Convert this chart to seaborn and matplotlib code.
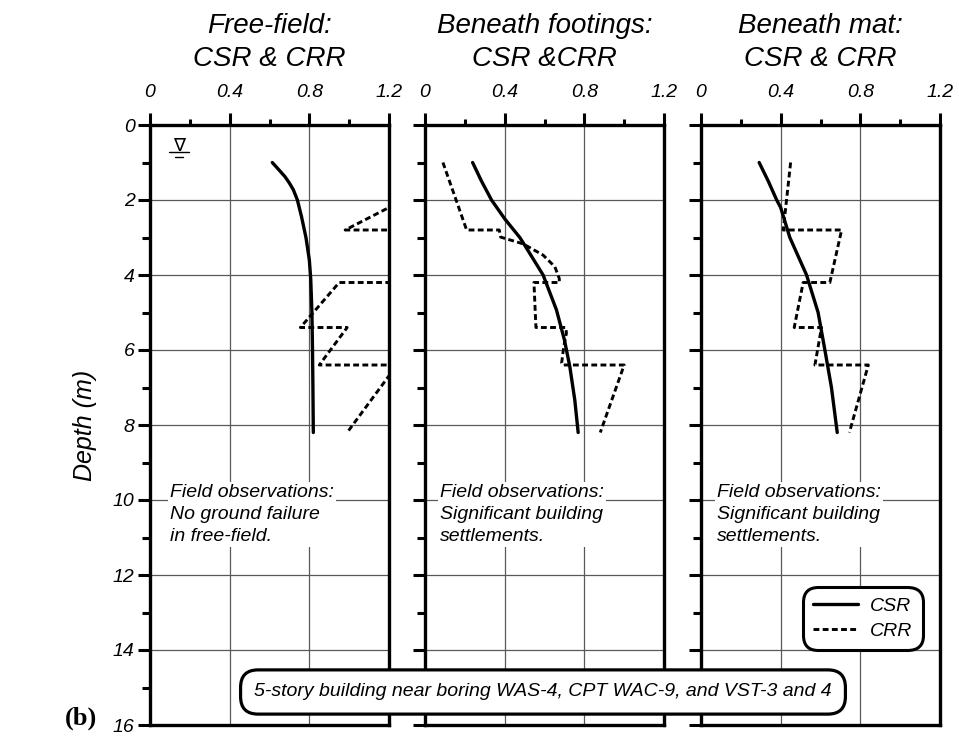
import matplotlib
matplotlib.use("Agg")
import matplotlib.pyplot as plt
import seaborn as sns

# CSR / CRR profiles (value, depth in m)
csr_ff_depth = [1.0, 1.2, 1.38, 1.55, 1.73, 2.0, 2.45, 3.0, 3.6, 4.1, 5.0, 6.0, 7.0, 8.2]
csr_ff = [0.614, 0.648, 0.678, 0.70, 0.72, 0.74, 0.761, 0.783, 0.80, 0.807, 0.813, 0.816, 0.818, 0.82]
crr_ff_depth = [1.0, 2.8, 2.8, 4.2, 4.2, 5.4, 5.4, 6.4, 6.4, 8.2]
crr_ff = [1.64, 0.98, 1.40, 1.40, 0.95, 0.755, 0.99, 0.85, 1.24, 0.99]

csr_ft_depth = [1.0, 1.5, 2.0, 2.5, 3.0, 3.2, 4.0, 4.93, 5.73, 6.44, 7.33, 8.2]
csr_ft = [0.239, 0.284, 0.334, 0.40, 0.476, 0.50, 0.593, 0.66, 0.70, 0.727, 0.752, 0.769]
crr_ft_depth = [1.0, 2.8, 2.8, 2.99, 3.17, 3.47, 3.78, 4.09, 4.2, 4.2, 5.4, 5.4, 5.55, 5.9,
                6.35, 6.4, 6.4, 8.2]
crr_ft = [0.09, 0.209, 0.373, 0.38, 0.493, 0.593, 0.652, 0.674, 0.675, 0.547, 0.557, 0.707,
          0.71, 0.697, 0.686, 0.69, 1.00, 0.88]

csr_mat_depth = [1.0, 1.5, 2.0, 2.2, 3.0, 4.0, 5.0, 6.0, 7.0, 8.2]
csr_mat = [0.292, 0.338, 0.38, 0.40, 0.446, 0.53, 0.588, 0.622, 0.655, 0.684]
crr_mat_depth = [1.0, 2.8, 2.8, 4.2, 4.2, 5.4, 5.4, 6.4, 6.4, 8.2]
crr_mat = [0.45, 0.413, 0.706, 0.647, 0.513, 0.468, 0.605, 0.572, 0.84, 0.745]

titles = ["Free-field:\nCSR & CRR", "Beneath footings:\nCSR &CRR", "Beneath mat:\nCSR & CRR"]
notes = ["Field observations:\nNo ground failure\nin free-field.",
         "Field observations:\nSignificant building\nsettlements.",
         "Field observations:\nSignificant building\nsettlements."]
note_x = [0.10, 0.075, 0.08]
x_ticks = [0, 0.4, 0.8, 1.2]
x_ticklabels = ["0", "0.4", "0.8", "1.2"]
depth_ticks = list(range(0, 17, 2))
water_table = 0.53

sns.set_style("white")
plt.rcParams["font.family"] = ["Liberation Sans", "DejaVu Sans"]
plt.rcParams["font.style"] = "italic"
for key in ["text.color", "axes.labelcolor", "xtick.color", "ytick.color"]:
    plt.rcParams[key] = "black"

fig = plt.figure(figsize=(9.59, 7.44), dpi=100)
lefts = [150, 425, 701]
axes = [fig.add_axes([l / 959, 19 / 744, 239 / 959, 600 / 744]) for l in lefts]

profiles = [(csr_ff, csr_ff_depth, crr_ff, crr_ff_depth),
            (csr_ft, csr_ft_depth, crr_ft, crr_ft_depth),
            (csr_mat, csr_mat_depth, crr_mat, crr_mat_depth)]

for i, ax in enumerate(axes):
    csr, csr_d, crr, crr_d = profiles[i]
    sns.lineplot(x=csr, y=csr_d, sort=False, estimator=None, ax=ax,
                 color="black", lw=2.4, label="CSR")
    sns.lineplot(x=crr, y=crr_d, sort=False, estimator=None, ax=ax,
                 color="black", lw=2.1, label="CRR")
    ax.lines[-1].set_dashes((2.0, 1.15))
    if ax.get_legend():
        ax.get_legend().remove()

    ax.set_xlim(0, 1.2)
    ax.set_ylim(16, 0)
    ax.xaxis.set_ticks_position("top")
    ax.set_xticks(x_ticks)
    ax.set_xticklabels(x_ticklabels)
    ax.set_xticks([0.2, 0.6, 1.0], minor=True)
    ax.set_yticks(depth_ticks)
    ax.set_yticks(range(1, 16, 2), minor=True)
    if i == 0:
        ax.set_yticklabels([str(d) for d in depth_ticks])
    else:
        ax.set_yticklabels([])
    ax.tick_params(axis="x", which="major", direction="out", length=9, width=2.2,
                   labelsize=14, pad=8, top=True, bottom=False)
    ax.tick_params(axis="x", which="minor", direction="out", length=4.5, width=2.2,
                   top=True, bottom=False)
    ax.tick_params(axis="y", which="major", direction="out", length=9, width=2.2,
                   labelsize=14, pad=2, left=True)
    ax.tick_params(axis="y", which="minor", direction="out", length=5.5, width=2.2, left=True)
    for lab in ax.get_xticklabels() + ax.get_yticklabels():
        lab.set_style("italic")

    ax.grid(True, which="major", color="0.35", lw=0.9)
    ax.set_axisbelow(True)
    for sp in ax.spines.values():
        sp.set_visible(True)
        sp.set_color("black")
        sp.set_linewidth(2.4)
    ax.set_xlabel("")
    ax.set_ylabel("")

    ax.text(0.5, 1.138, titles[i], transform=ax.transAxes, ha="center", va="center",
            fontsize=20, linespacing=1.35)
    ax.text(note_x[i], 9.58, notes[i], ha="left", va="top", fontsize=14,
            linespacing=1.38, zorder=5,
            bbox=dict(facecolor="white", edgecolor="none", pad=1.5))

axes[0].set_ylabel("Depth (m)", fontsize=18)
axes[0].yaxis.set_label_coords(-53 / 239, 0.5)

# water table marker
axes[0].text(0.148, water_table, "\u2207", ha="center", va="center", fontsize=13,
             fontstyle="normal", family="DejaVu Sans")
axes[0].plot([0.095, 0.196], [water_table + 0.2] * 2, color="black", lw=1.0)
axes[0].plot([0.125, 0.166], [water_table + 0.33] * 2, color="black", lw=1.0)

leg = axes[2].legend(loc="upper right", bbox_to_anchor=(0.952, 0.24), fontsize=14,
                     frameon=True, fancybox=True, handlelength=2.3, handletextpad=0.6,
                     borderpad=0.35, labelspacing=0.35)
frame = leg.get_frame()
frame.set_edgecolor("black")
frame.set_linewidth(2.2)
frame.set_facecolor("white")
frame.set_alpha(1)
frame.set_boxstyle("round,pad=0.2,rounding_size=0.8")
for t in leg.get_texts():
    t.set_style("italic")

fig.text(543 / 959, 1 - 692 / 744,
         "5-story building near boring WAS-4, CPT WAC-9, and VST-3 and 4",
         ha="center", va="center", fontsize=14, zorder=10,
         bbox=dict(boxstyle="round,pad=0.7,rounding_size=0.9", facecolor="white",
                   edgecolor="black", linewidth=2.3))

fig.text(65 / 959, 1 - 718 / 744, "(b)", ha="left", va="center", fontsize=19,
         fontweight="bold", fontstyle="normal", family="Liberation Serif")

fig.savefig("out.png", dpi=100)
